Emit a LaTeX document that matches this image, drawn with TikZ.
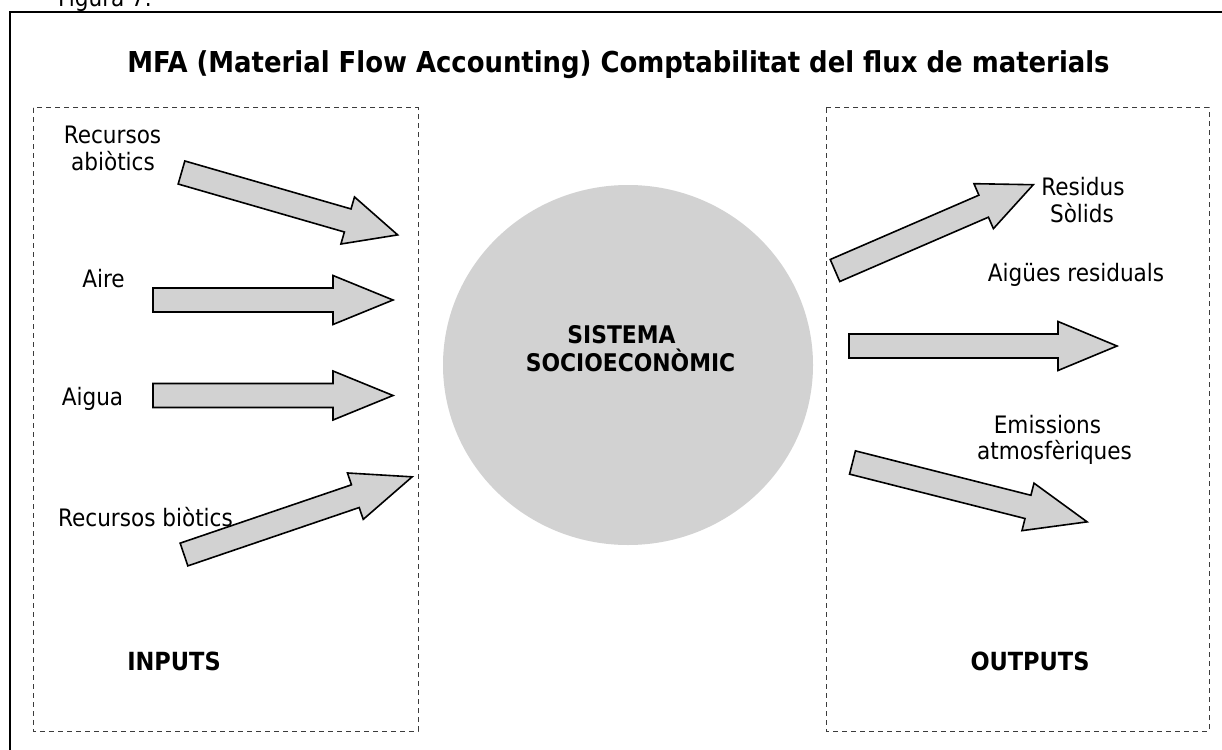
\documentclass[tikz,border=0pt]{standalone}
\usepackage{fontspec}
\setmainfont{DejaVu Sans Condensed}[BoldFont={DejaVu Sans Condensed Bold}]
\definecolor{fillgray}{RGB}{210,210,210}
\definecolor{dashgray}{RGB}{60,60,60}
\newcommand\blkarrow[5]{% tail x, tail y, angle, length, head length
  \begin{scope}[shift={(#1,#2)},rotate=#3]
    \draw[blockarrow] (0,12) -- ({#4-#5},12) -- ({#4-#5},24.5) -- (#4,0)
      -- ({#4-#5},-24.5) -- ({#4-#5},-12) -- (0,-12) -- cycle;
  \end{scope}}
\begin{document}
\begin{tikzpicture}[x=1pt,y=-1pt,
  blockarrow/.style={draw=black,line width=1.6pt,fill=fillgray,line join=miter},
  lbl/.style={inner sep=0pt,anchor=base,font=\fontsize{24}{28}\selectfont},
  blbl/.style={inner sep=0pt,anchor=base,font=\fontsize{25}{28}\selectfont\bfseries},
  dbox/.style={draw=dashgray,line width=1pt,dash pattern=on 5pt off 4pt}]
\useasboundingbox (0,0) rectangle (1222,749);
\fill[white] (0,0) rectangle (1222,749);
% outer frame (only left and top visible)
\draw[line width=2pt] (10,760) -- (10,12) -- (1235,12);
\node[lbl,anchor=base west] (fig) at (58,7) {Figura 7.};
% title
\node[inner sep=0pt,anchor=base,font=\fontsize{28.8}{32}\selectfont\bfseries] (title) at (618.5,73)
  {MFA (Material Flow Accounting) Comptabilitat del flux de materials};
% dashed boxes
\draw[dbox] (33,108) rectangle (418,731);
\draw[dbox] (826,108) rectangle (1209,731);
% central system
\fill[fillgray] (628,365) ellipse [x radius=185, y radius=180];
\node[blbl,font=\fontsize{24.3}{28}\selectfont\bfseries] (s1) at (621.5,343) {SISTEMA};
\node[blbl,font=\fontsize{24.3}{28}\selectfont\bfseries] (s2) at (630.5,371) {SOCIOECONÒMIC};
% input arrows
\blkarrow{181.5}{172.5}{-16.1}{225}{52}
\blkarrow{153}{300}{0}{240}{60}
\blkarrow{153}{395.5}{0}{240}{60}
\blkarrow{184}{554.5}{18.8}{241}{60}
% output arrows
\blkarrow{835}{270.5}{23.4}{216}{54}
\blkarrow{849}{346}{0}{268}{59}
\blkarrow{852.5}{462.5}{-14.2}{242}{61}
% input labels
\node[lbl] (ra1) at (112.5,143) {Recursos};
\node[lbl] (ra2) at (113,170) {abiòtics};
\node[lbl] (aire) at (103.5,287) {Aire};
\node[lbl] (aigua) at (92.5,405) {Aigua};
\node[lbl] (rb) at (145.5,526) {Recursos biòtics};
% output labels
\node[lbl] (rs1) at (1083,195) {Residus};
\node[lbl] (rs2) at (1082,222) {Sòlids};
\node[lbl] (ar) at (1076,281) {Aigües residuals};
\node[lbl] (em1) at (1047.5,433) {Emissions};
\node[lbl] (em2) at (1054.5,459) {atmosfèriques};
% box titles
\node[blbl] (inp) at (174,670) {INPUTS};
\node[blbl] (outp) at (1030,670) {OUTPUTS};
\end{tikzpicture}
\end{document}
